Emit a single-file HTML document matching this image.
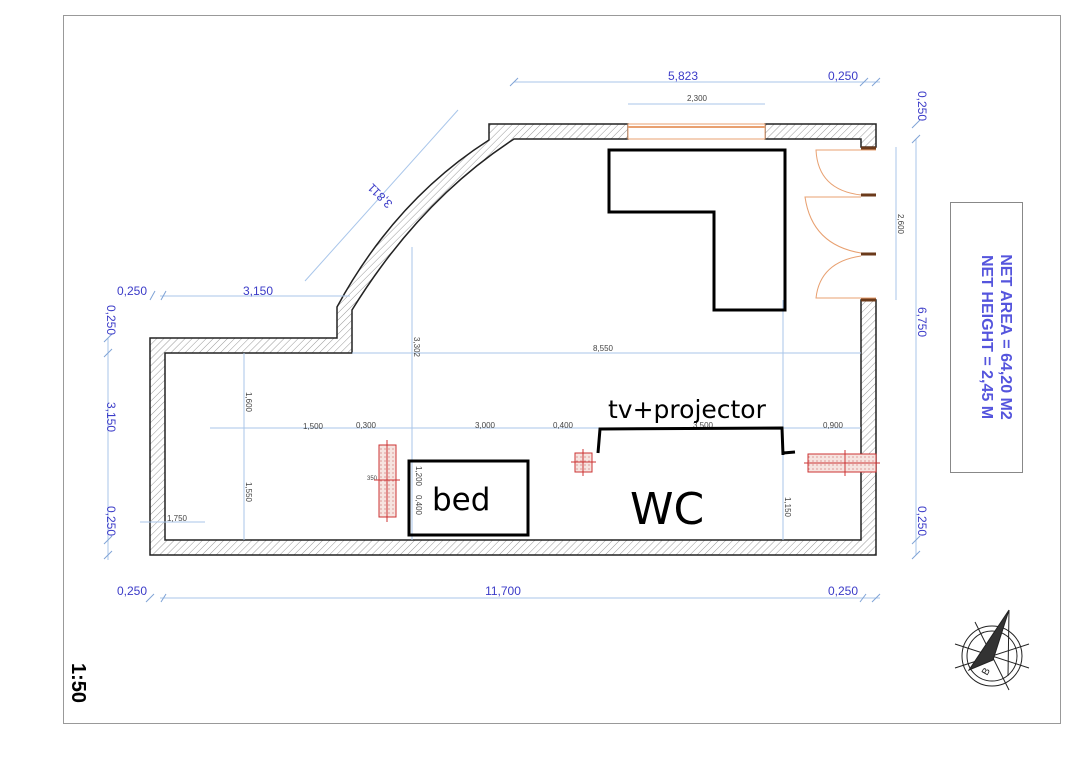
<!DOCTYPE html>
<html><head><meta charset="utf-8"><style>
html,body{margin:0;padding:0;background:#fff;}
svg{display:block;}
.d{stroke:#a9c6ea;stroke-width:1;fill:none}
.t{stroke:#7fa3d6;stroke-width:1}
.bl{font-family:"Liberation Sans",sans-serif;font-size:12px;fill:#3b3bc8}
.sm{font-family:"Liberation Sans",sans-serif;font-size:8px;fill:#444}
</style></head><body>
<svg width="1072" height="783" viewBox="0 0 1072 783" xmlns="http://www.w3.org/2000/svg">
<defs>
<pattern id="h" width="5" height="5" patternUnits="userSpaceOnUse" patternTransform="rotate(45)">
<rect width="5" height="5" fill="#fff"/><line x1="0" y1="0" x2="0" y2="5" stroke="#999" stroke-width="1"/>
</pattern>
<pattern id="dots" width="4" height="4" patternUnits="userSpaceOnUse"><rect width="4" height="4" fill="#f6e4e0"/><circle cx="1" cy="1" r="0.6" fill="#c66"/></pattern>
</defs>
<rect x="63.5" y="15.5" width="997" height="708" fill="#fff" stroke="#999"/>

<!-- walls -->
<path fill="url(#h)" fill-rule="evenodd" stroke="#222" stroke-width="1.5" d="
M150,338 L337,338 L337,307 Q395,200 489,140 L489,124 L628,124 L628,139 L514,139 Q420,200 352,310 L352,353 L165,353 L165,540 L861,540 L861,300 L876,300 L876,555 L150,555 Z"/>
<path fill="url(#h)" stroke="#222" stroke-width="1.5" d="M765,124 L876,124 L876,147 L861,147 L861,139 L765,139 Z"/>
<!-- window -->
<rect x="628" y="124" width="137" height="15" fill="#fff" stroke="#e8a070" stroke-width="1"/>
<line x1="628" y1="127" x2="765" y2="127" stroke="#e8a070" stroke-width="2"/>
<!-- doors -->
<g stroke="#e8a070" fill="none" stroke-width="1">
<path d="M876,150 L816,150 Q818,190 861,195"/>
<path d="M861,197 L805,197 Q812,245 861,253"/>
<path d="M861,256 Q820,262 816,298 L876,298"/>
</g>
<g stroke="#6b3a1a" stroke-width="3"><line x1="861" y1="195" x2="876" y2="195"/><line x1="861" y1="254" x2="876" y2="254"/><line x1="861" y1="148" x2="876" y2="148"/><line x1="861" y1="300" x2="876" y2="300"/></g>

<!-- dimension lines -->
<g class="d">
<line x1="514" y1="82" x2="880" y2="82"/>
<line x1="628" y1="104" x2="765" y2="104"/>
<line x1="160" y1="296" x2="350" y2="296"/>
<line x1="305" y1="281" x2="458" y2="110"/>
<line x1="412" y1="247" x2="412" y2="540"/>
<line x1="352" y1="353" x2="861" y2="353"/>
<line x1="244" y1="353" x2="244" y2="540"/>
<line x1="210" y1="428" x2="800" y2="428"/>
<line x1="800" y1="428" x2="861" y2="428"/>
<line x1="140" y1="522" x2="205" y2="522"/>
<line x1="783" y1="300" x2="783" y2="540"/>
<line x1="896" y1="147" x2="896" y2="300"/>
<line x1="916" y1="139" x2="916" y2="555"/>
<line x1="160" y1="598" x2="880" y2="598"/>
<line x1="108" y1="338" x2="108" y2="560"/>
</g>
<g class="t">
<line x1="510" y1="86" x2="518" y2="78"/><line x1="872" y1="86" x2="880" y2="78"/><line x1="860" y1="86" x2="868" y2="78"/>
<line x1="150" y1="300" x2="155" y2="291"/><line x1="161" y1="300" x2="166" y2="291"/>
<line x1="104" y1="342" x2="112" y2="334"/><line x1="104" y1="357" x2="112" y2="349"/><line x1="104" y1="544" x2="112" y2="536"/><line x1="104" y1="559" x2="112" y2="551"/>
<line x1="912" y1="143" x2="920" y2="135"/><line x1="912" y1="128" x2="920" y2="120"/><line x1="912" y1="544" x2="920" y2="536"/><line x1="912" y1="559" x2="920" y2="551"/>
<line x1="146" y1="602" x2="154" y2="594"/><line x1="161" y1="602" x2="166" y2="594"/><line x1="872" y1="602" x2="880" y2="594"/><line x1="860" y1="602" x2="866" y2="594"/>
</g>

<text class="bl" x="683" y="80" text-anchor="middle">5,823</text>
<text class="bl" x="843" y="80" text-anchor="middle">0,250</text>
<text class="sm" x="697" y="101" text-anchor="middle">2,300</text>
<text class="bl" x="132" y="295" text-anchor="middle">0,250</text>
<text class="bl" x="258" y="295" text-anchor="middle">3,150</text>
<text class="bl" x="0" y="0" transform="translate(383,193) rotate(-135)" text-anchor="middle">3,811</text>
<text class="sm" x="0" y="0" transform="translate(414,347) rotate(90)" text-anchor="middle">3,302</text>
<text class="sm" x="603" y="351" text-anchor="middle">8,550</text>
<text class="sm" x="0" y="0" transform="translate(246,402) rotate(90)" text-anchor="middle">1,600</text>
<text class="sm" x="0" y="0" transform="translate(246,492) rotate(90)" text-anchor="middle">1,550</text>
<text class="sm" x="313" y="429" text-anchor="middle">1,500</text>
<text class="sm" x="366" y="428" text-anchor="middle">0,300</text>
<text class="sm" x="485" y="428" text-anchor="middle">3,000</text>
<text class="sm" x="563" y="428" text-anchor="middle">0,400</text>
<text class="sm" x="703" y="428" text-anchor="middle">3,500</text>
<text class="sm" x="833" y="428" text-anchor="middle">0,900</text>
<text class="sm" x="177" y="521" text-anchor="middle">1,750</text>
<text class="sm" x="0" y="0" transform="translate(416,476) rotate(90)" text-anchor="middle">1,200</text>
<text class="sm" x="0" y="0" transform="translate(416,505) rotate(90)" text-anchor="middle">0,400</text>
<text class="sm" x="0" y="0" transform="translate(785,507) rotate(90)" text-anchor="middle">1,150</text>
<text class="sm" x="0" y="0" transform="translate(898,224) rotate(90)" text-anchor="middle">2,600</text>
<text class="sm" x="372" y="480" text-anchor="middle" style="font-size:6px">350</text>
<text class="bl" x="0" y="0" transform="translate(918,106) rotate(90)" text-anchor="middle">0,250</text>
<text class="bl" x="0" y="0" transform="translate(918,322) rotate(90)" text-anchor="middle">6,750</text>
<text class="bl" x="0" y="0" transform="translate(918,521) rotate(90)" text-anchor="middle">0,250</text>
<text class="bl" x="0" y="0" transform="translate(107,320) rotate(90)" text-anchor="middle">0,250</text>
<text class="bl" x="0" y="0" transform="translate(107,417) rotate(90)" text-anchor="middle">3,150</text>
<text class="bl" x="0" y="0" transform="translate(107,521) rotate(90)" text-anchor="middle">0,250</text>
<text class="bl" x="132" y="595" text-anchor="middle">0,250</text>
<text class="bl" x="503" y="595" text-anchor="middle">11,700</text>
<text class="bl" x="843" y="595" text-anchor="middle">0,250</text>

<!-- columns -->
<g stroke="#c33" stroke-width="1">
<rect x="379" y="445" width="17" height="72" fill="url(#dots)"/>
<line x1="387" y1="440" x2="387" y2="522"/><line x1="374" y1="480" x2="400" y2="480"/>
<rect x="575" y="453" width="17" height="19" fill="url(#dots)"/>
<line x1="583" y1="449" x2="583" y2="476"/><line x1="571" y1="462" x2="596" y2="462"/>
<rect x="808" y="454" width="68" height="18" fill="url(#dots)"/>
<line x1="804" y1="463" x2="880" y2="463"/><line x1="845" y1="450" x2="845" y2="476"/>
</g>

<!-- black annotations -->
<path d="M609,150 L785,150 L785,310 L714,310 L714,212 L609,212 Z" fill="none" stroke="#000" stroke-width="3"/>
<rect x="409" y="461" width="119" height="74" fill="none" stroke="#000" stroke-width="3"/>
<path d="M598,453 L600,429 L782,428 L783,455 M783,453 L795,452" fill="none" stroke="#000" stroke-width="3"/>
<text x="608" y="418" style="font-family:'DejaVu Sans','Liberation Sans',sans-serif;font-size:25px" fill="#000">tv+projector</text>
<text x="432" y="510" style="font-family:'DejaVu Sans','Liberation Sans',sans-serif;font-size:31px" fill="#000">bed</text>
<text x="630" y="524" style="font-family:'DejaVu Sans','Liberation Sans',sans-serif;font-size:44px" fill="#000">WC</text>

<!-- net area box -->
<rect x="950.5" y="202.5" width="72" height="270" fill="#fff" stroke="#888"/>
<g transform="translate(986,337) rotate(90)" style="font-family:'Liberation Sans',sans-serif;font-weight:bold;font-size:16px" fill="#5555dd" text-anchor="middle">
<text x="0" y="-15">NET AREA = 64,20 M2</text>
<text x="0" y="4">NET HEIGHT = 2,45 M</text>
</g>

<text x="0" y="0" transform="translate(72,683) rotate(90)" style="font-family:'Liberation Sans',sans-serif;font-weight:bold;font-size:20px" fill="#000" text-anchor="middle">1:50</text>

<!-- compass -->
<g stroke="#222" fill="none" stroke-width="1">
<circle cx="992" cy="656" r="30"/><circle cx="992" cy="656" r="25"/>
<line x1="955" y1="644" x2="1029" y2="668"/><line x1="955" y1="668" x2="1029" y2="644"/>
<line x1="975" y1="622" x2="1009" y2="690"/>
<path d="M1009,610 L969,670 L993,660 Z" fill="#333"/>
<line x1="1009" y1="610" x2="1008" y2="676"/>
</g>
<text x="0" y="0" transform="translate(987,676) rotate(-60)" style="font-family:'Liberation Sans',sans-serif;font-size:10px" fill="#222">B</text>
</svg>
</body></html>
